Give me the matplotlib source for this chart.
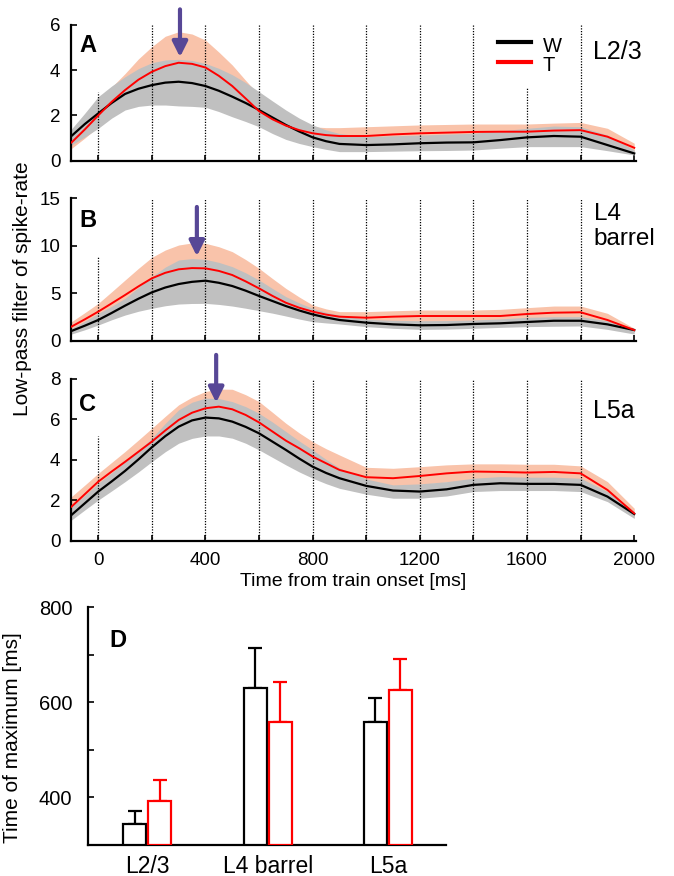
"""Spike-rate time courses (W vs T) for three cortical layers + time of maximum."""
import matplotlib
matplotlib.use("Agg")
import matplotlib.pyplot as plt
import numpy as np

plt.rcParams["font.family"] = ["Liberation Sans", "DejaVu Sans"]

# ---------------------------------------------------------------- data
t_ms = [-100, -50, 0, 50, 100, 150, 200, 250, 300, 350, 400, 450, 500, 550,
        600, 650, 700, 750, 800, 850, 900,
        1000, 1100, 1200, 1300, 1400, 1500, 1600, 1700, 1800, 1900, 2000]

# panel A, L2/3
a_w = [1.09, 1.62, 2.09, 2.55, 2.95, 3.18, 3.34, 3.45, 3.49, 3.43, 3.30, 3.09,
       2.83, 2.55, 2.24, 1.91, 1.58, 1.29, 1.03, 0.86, 0.74,
       0.69, 0.72, 0.77, 0.80, 0.81, 0.91, 1.03, 1.09, 1.06, 0.69, 0.32]
a_w_lo = [0.69, 1.05, 1.43, 1.88, 2.24, 2.40, 2.46, 2.46, 2.42, 2.40, 2.36, 2.17,
          1.94, 1.73, 1.50, 1.20, 0.94, 0.76, 0.62, 0.50, 0.40,
          0.40, 0.42, 0.44, 0.45, 0.47, 0.55, 0.62, 0.62, 0.62, 0.44, 0.25]
a_w_hi = [1.40, 2.10, 2.83, 3.30, 3.71, 4.07, 4.33, 4.45, 4.48, 4.43, 4.30, 4.08,
          3.80, 3.45, 3.05, 2.64, 2.24, 1.88, 1.58, 1.36, 1.20,
          1.06, 1.10, 1.13, 1.17, 1.21, 1.32, 1.43, 1.53, 1.50, 1.13, 0.47]
a_t = [0.80, 1.38, 2.00, 2.60, 3.12, 3.58, 3.93, 4.18, 4.33, 4.28, 4.12, 3.75,
       3.30, 2.75, 2.19, 1.83, 1.55, 1.35, 1.21, 1.13, 1.09,
       1.09, 1.16, 1.21, 1.24, 1.27, 1.28, 1.28, 1.33, 1.35, 1.06, 0.57]
a_t_lo = [0.54, 1.00, 1.50, 2.10, 2.60, 2.70, 2.75, 2.90, 3.00, 2.95, 2.80, 2.55,
          2.30, 1.95, 1.60, 1.45, 1.30, 1.10, 0.95, 0.85, 0.75,
          0.72, 0.80, 0.85, 0.88, 0.90, 0.92, 0.95, 1.00, 1.00, 0.72, 0.40]
a_t_hi = [1.10, 1.75, 2.60, 3.25, 3.85, 4.50, 5.04, 5.50, 5.70, 5.60, 5.33, 4.80,
          4.23, 3.55, 2.90, 2.42, 1.95, 1.70, 1.50, 1.46, 1.46,
          1.50, 1.54, 1.58, 1.60, 1.62, 1.62, 1.62, 1.66, 1.69, 1.43, 0.77]

# panel B, L4 barrel
b_w = [1.02, 1.58, 2.18, 2.92, 3.69, 4.42, 5.09, 5.60, 5.97, 6.20, 6.32, 6.10,
       5.76, 5.27, 4.71, 4.18, 3.65, 3.18, 2.77, 2.44, 2.18,
       1.90, 1.72, 1.62, 1.65, 1.76, 1.83, 1.97, 2.10, 2.10, 1.72, 1.12]
b_w_lo = [0.70, 1.15, 1.65, 2.20, 2.70, 3.10, 3.41, 3.68, 3.86, 3.92, 3.93, 3.82,
          3.65, 3.42, 3.16, 2.90, 2.60, 2.28, 2.00, 1.87, 1.76,
          1.48, 1.30, 1.19, 1.22, 1.30, 1.40, 1.48, 1.52, 1.55, 1.19, 0.70]
b_w_hi = [1.30, 2.05, 2.88, 3.62, 4.46, 5.60, 6.74, 7.75, 8.50, 8.65, 8.57, 8.25,
          7.80, 7.15, 6.39, 5.50, 4.64, 3.98, 3.41, 3.00, 2.70,
          2.25, 2.15, 2.10, 2.12, 2.18, 2.30, 2.46, 2.52, 2.53, 2.10, 1.30]
b_t = [1.48, 2.25, 3.06, 3.93, 4.81, 5.72, 6.57, 7.15, 7.52, 7.65, 7.62, 7.35,
       6.92, 6.25, 5.51, 4.72, 4.00, 3.47, 3.06, 2.75, 2.53,
       2.42, 2.53, 2.60, 2.60, 2.60, 2.60, 2.81, 2.95, 2.99, 2.18, 1.12]
b_t_lo = [1.00, 1.60, 2.20, 2.75, 3.30, 3.85, 4.40, 4.75, 5.00, 5.05, 5.00, 4.80,
          4.50, 4.00, 3.50, 3.20, 2.90, 2.65, 2.40, 2.20, 2.00,
          1.80, 1.90, 1.97, 1.97, 1.97, 1.90, 2.15, 2.25, 2.33, 1.50, 0.95]
b_t_hi = [2.00, 2.95, 3.93, 5.15, 6.39, 7.62, 8.78, 9.55, 10.08, 10.30, 10.26,
          9.90, 9.38, 8.55, 7.62, 6.55, 5.51, 4.60, 3.76, 3.35, 3.06,
          3.06, 3.15, 3.23, 3.23, 3.23, 3.30, 3.48, 3.65, 3.65, 2.88, 1.30]

# panel C, L5a
c_w = [1.27, 1.85, 2.43, 2.93, 3.45, 4.02, 4.62, 5.17, 5.64, 5.95, 6.09, 6.05,
       5.89, 5.63, 5.31, 4.90, 4.49, 4.06, 3.66, 3.35, 3.09,
       2.71, 2.48, 2.43, 2.54, 2.76, 2.84, 2.81, 2.81, 2.76, 2.18, 1.32]
c_w_lo = [1.02, 1.52, 2.01, 2.46, 2.92, 3.40, 3.91, 4.40, 4.82, 5.06, 5.18, 5.18,
          5.07, 4.82, 4.49, 4.12, 3.75, 3.40, 3.09, 2.82, 2.59,
          2.30, 2.10, 2.10, 2.21, 2.43, 2.48, 2.48, 2.48, 2.43, 1.93, 1.10]
c_w_hi = [1.68, 2.25, 2.84, 3.36, 3.90, 4.45, 5.07, 5.80, 6.47, 6.85, 7.05, 7.03,
          6.88, 6.63, 6.30, 5.87, 5.40, 4.93, 4.49, 4.02, 3.60,
          3.05, 2.76, 2.81, 2.92, 3.09, 3.17, 3.14, 3.14, 3.09, 2.43, 1.44]
c_t = [1.68, 2.30, 2.92, 3.42, 3.90, 4.40, 4.90, 5.45, 5.97, 6.33, 6.55, 6.63,
       6.50, 6.22, 5.85, 5.40, 4.95, 4.57, 4.16, 3.83, 3.50,
       3.14, 3.09, 3.20, 3.33, 3.42, 3.40, 3.37, 3.40, 3.33, 2.51, 1.35]
c_t_lo = [1.30, 1.90, 2.55, 2.90, 3.30, 3.80, 4.30, 4.80, 5.30, 5.60, 5.80, 5.85,
          5.70, 5.45, 5.10, 4.70, 4.25, 3.90, 3.55, 3.25, 2.95,
          2.70, 2.65, 2.78, 2.90, 3.00, 3.00, 2.98, 3.00, 2.95, 2.15, 1.15]
c_t_hi = [2.18, 2.75, 3.33, 3.87, 4.41, 4.98, 5.56, 6.15, 6.72, 7.10, 7.38, 7.50,
          7.49, 7.22, 6.88, 6.35, 5.81, 5.33, 4.90, 4.55, 4.24,
          3.63, 3.58, 3.66, 3.75, 3.80, 3.80, 3.78, 3.78, 3.70, 2.92, 1.60]

# stimulus times (dotted lines) and how high each line reaches per panel
stim_ms = [0, 200, 400, 600, 800, 1000, 1200, 1400, 1600, 1800]
a_stim_top = [3.05, 6, 6, 6, 6, 6, 6, 6, 3.2, 6]
b_stim_top = [8.9, 15, 15, 15, 15, 15, 15, 15, 15, 15]
c_stim_top = [5.18, 8, 8, 8, 8, 8, 8, 8, 8, 8]

# arrows marking the T maximum: (time, tip value, tail value)
peak_ms = [305, 368, 440]
peak_tip = [4.58, 8.9, 6.83]
peak_tail = [6.69, 14.09, 9.19]

# panel D, time of maximum
layers = ["L2/3", "L4 barrel", "L5a"]
w_tmax = [345, 630, 558]
w_tmax_err = [27, 85, 52]
t_tmax = [392, 558, 627]
t_tmax_err = [45, 85, 64]

SALMON = "#f9c3aa"
GRAY = "#c0c0c0"
PURPLE = "#574796"


def curve_panel(ax, w, w_lo, w_hi, tt, t_lo, t_hi, stim_top, ymax, yticks,
                i_peak, letter, name):
    ax.fill_between(t_ms, t_lo, t_hi, color=SALMON, lw=0, zorder=1)
    ax.fill_between(t_ms, w_lo, w_hi, color=GRAY, lw=0, zorder=2)
    ax.vlines(stim_ms, 0, stim_top, colors="k", linestyles=(0, (1, 1.2)),
              lw=0.9, zorder=3)
    ax.plot(t_ms, w, color="k", lw=1.6, zorder=4)
    ax.plot(t_ms, tt, color="#ff0000", lw=1.4, zorder=5)
    ax.annotate("", xy=(peak_ms[i_peak], peak_tip[i_peak]),
                xytext=(peak_ms[i_peak], peak_tail[i_peak]),
                arrowprops=dict(arrowstyle="-|>,head_width=0.45,head_length=0.9",
                                color=PURPLE, lw=3, shrinkA=0, shrinkB=0),
                annotation_clip=False, zorder=6)
    ax.set_xlim(-100, 2005)
    ax.set_ylim(0, ymax)
    ax.set_yticks(yticks)
    ax.set_xticks(range(0, 2001, 400))
    ax.set_xticks(range(200, 2000, 400), minor=True)
    for s in ("top", "right"):
        ax.spines[s].set_visible(False)
    for s in ("left", "bottom"):
        ax.spines[s].set_linewidth(1.6)
    ax.tick_params(which="both", direction="in", length=4, width=1.2,
                   labelsize=13.5, pad=8)
    ax.text(-70, ymax * 0.845, letter, fontsize=17, fontweight="bold",
            va="center", ha="left")
    ax.text(1845, ymax * 0.80, name, fontsize=18, va="center", ha="left",
            linespacing=1.15)


def main():
    fig = plt.figure(figsize=(6.74, 8.76), dpi=100)

    # ============================ curve panels =========================
    ax_a = fig.add_axes([0.106, 0.8166, 0.837, 0.1549])
    ax_b = fig.add_axes([0.106, 0.6111, 0.837, 0.1625])
    ax_c = fig.add_axes([0.106, 0.3828, 0.837, 0.1846])

    curve_panel(ax_a, a_w, a_w_lo, a_w_hi, a_t, a_t_lo, a_t_hi, a_stim_top,
                6, [0, 2, 4, 6], 0, "A", "L2/3")
    curve_panel(ax_b, b_w, b_w_lo, b_w_hi, b_t, b_t_lo, b_t_hi, b_stim_top,
                15, [0, 5, 10, 15], 1, "B", "")
    curve_panel(ax_c, c_w, c_w_lo, c_w_hi, c_t, c_t_lo, c_t_hi, c_stim_top,
                8, [0, 2, 4, 6, 8], 2, "C", "L5a")
    ax_b.text(1849, 14.5, "L4\nbarrel", fontsize=17.5, va="top", ha="left",
              linespacing=1.15)
    ax_a.tick_params(labelbottom=False)
    ax_b.tick_params(labelbottom=False)
    ax_c.set_xlabel("Time from train onset [ms]", fontsize=14, labelpad=3)

    # legend in A
    ax_a.plot([1490, 1614], [5.26, 5.26], color="k", lw=3, clip_on=False)
    ax_a.plot([1490, 1614], [4.38, 4.38], color="#ff0000", lw=3, clip_on=False)
    ax_a.text(1659, 5.05, "W", fontsize=14.5, va="center", ha="left")
    ax_a.text(1659, 4.22, "T", fontsize=14.5, va="center", ha="left")

    fig.text(0.033, 0.671, "Low-pass filter of spike-rate", rotation=90,
             fontsize=15, ha="center", va="center")

    # ============================ panel D =========================
    ax_d = fig.add_axes([0.130, 0.0354, 0.5317, 0.2713])
    x = np.arange(len(layers))
    off, wd = 0.104, 0.19
    ax_d.bar(x - off, [v - 300 for v in w_tmax], wd, bottom=300,
             facecolor="white", edgecolor="k", lw=1.6, zorder=3)
    ax_d.bar(x + off, [v - 300 for v in t_tmax], wd, bottom=300,
             facecolor="white", edgecolor="#ff0000", lw=1.6, zorder=3)
    ax_d.errorbar(x - off, w_tmax, yerr=[[0] * 3, w_tmax_err], fmt="none",
                  ecolor="k", elinewidth=1.6, capsize=4.7, capthick=1.6, zorder=2)
    ax_d.errorbar(x + off, t_tmax, yerr=[[0] * 3, t_tmax_err], fmt="none",
                  ecolor="#ff0000", elinewidth=1.6, capsize=4.7, capthick=1.6,
                  zorder=2)
    ax_d.set_xlim(-0.497, 2.483)
    ax_d.set_ylim(300, 800)
    ax_d.set_yticks([400, 600, 800])
    ax_d.set_yticks([500, 700], minor=True)
    ax_d.set_xticks(x)
    ax_d.set_xticklabels(layers, fontsize=16.5)
    for s in ("top", "right"):
        ax_d.spines[s].set_visible(False)
    for s in ("left", "bottom"):
        ax_d.spines[s].set_linewidth(1.6)
    ax_d.tick_params(axis="y", which="both", direction="in", length=4,
                     width=1.2, labelsize=14.5, pad=11)
    ax_d.tick_params(axis="x", length=0, pad=7)
    ax_d.set_ylabel("Time of maximum [ms]", fontsize=15)
    ax_d.yaxis.set_label_coords(-0.183, 0.45)
    ax_d.text(0.062, 0.862, "D", transform=ax_d.transAxes, fontsize=17,
              fontweight="bold", va="center", ha="left")

    fig.savefig("out.png", dpi=100)


if __name__ == "__main__":
    main()
